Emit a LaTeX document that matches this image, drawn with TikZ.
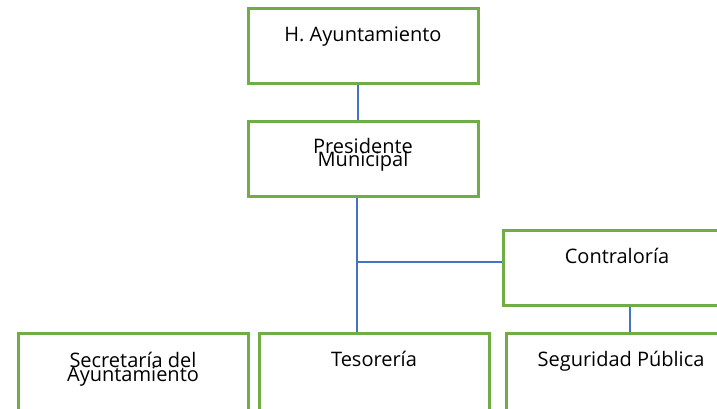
\documentclass[tikz,border=0pt]{standalone}
\usepackage{fontspec}
\setmainfont{Open Sans}
\usetikzlibrary{positioning}
\definecolor{boxgreen}{RGB}{112,173,71}
\definecolor{linkblue}{RGB}{68,114,196}
\newcommand{\lblsize}[1]{\fontsize{20}{#1}\selectfont\lineskiplimit=-30pt\relax}
\tikzset{
  unit/.style={draw=boxgreen, line width=3pt, minimum width=230pt, minimum height=75pt, inner sep=0pt},
  lbl/.style={font={\lblsize{12.7}}, align=center, inner sep=0pt, anchor=base},
  link/.style={draw=linkblue, line width=1.2pt}
}
\begin{document}
\begin{tikzpicture}[x=1pt,y=-1pt]
\useasboundingbox (0,0) rectangle (717,408);
\clip (0,0) rectangle (717,408);
% boxes
\node[unit] (ayto) at (363,45.5) {};
\node[unit] (pres) at (363,159) {};
\node[unit] (contra) at (618,267.5) {};
\node[unit, minimum height=85pt] (secr) at (133,375.5) {};
\node[unit, minimum height=85pt] (teso) at (374,375.5) {};
\node[unit, minimum height=85pt] (segu) at (621,375.5) {};

% texts
\node[lbl] (ayto-t) at ([yshift=-35pt]ayto.north) {H. Ayuntamiento};
\node[lbl] (pres-t) at ([yshift=-46pt]pres.north) {Presidente\\Municipal};
\node[lbl] (contra-t) at ([xshift=-1pt,yshift=-35pt]contra.north) {Contraloría};
\node[lbl, font={\lblsize{14.4}}] (secr-t) at ([yshift=-50pt]secr.north) {Secretaría del\\Ayuntamiento};
\node[lbl] (teso-t) at ([yshift=-35pt]teso.north) {Tesorería};
\node[lbl] (segu-t) at ([yshift=-35pt]segu.north) {Seguridad Pública};

% links
\draw[link] ([xshift=-5pt]ayto.south) -- ([xshift=-5pt]pres.north);
\coordinate (pdrop) at ([xshift=-6pt]pres.south);
\draw[link] (pdrop) -- (pdrop |- teso.north);
\coordinate (jn) at ([yshift=5.5pt]pdrop |- contra.west);
\draw[link] (jn) -- (jn -| contra.west);
\draw[link] ([xshift=9pt]segu.north) -- ([xshift=9pt]segu.north |- contra.south);
\end{tikzpicture}
\end{document}
